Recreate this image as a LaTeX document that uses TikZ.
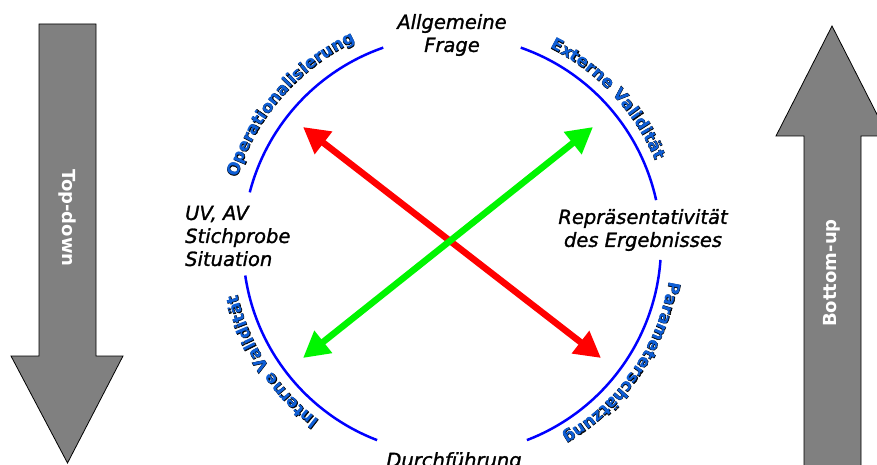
\documentclass[tikz,border=0pt]{standalone}
\usepackage{fontspec}
\setmainfont{DejaVu Sans}
\newfontfamily\labelfont{DejaVu Sans Oblique}[FakeBold=1.3]
\newfontfamily\arcfont{DejaVu Sans Bold}
\newfontfamily\arcfontwide{DejaVu Sans Bold}[FakeBold=3.5]
\usetikzlibrary{arrows.meta,decorations.text}
\definecolor{arcblue}{RGB}{0,0,255}
\definecolor{letterblue}{RGB}{15,95,215}
\definecolor{bigarrow}{RGB}{128,128,128}
\definecolor{xred}{RGB}{255,0,0}
\definecolor{xgreen}{RGB}{0,245,0}
% arc lettering: a thick dark copy underneath, blue letters on top
\newcommand\arcunder{\fontsize{16.5}{17}\arcfontwide\color{black}}
\newcommand\arcover{\fontsize{16.5}{17}\arcfont\color{letterblue}}
\begin{document}
\begin{tikzpicture}[x=1pt,y=1pt,
  ring/.style={draw=arcblue,line width=2.5pt},
  blockarrow/.style={fill=bigarrow,draw=black,line width=0.8pt,line join=miter},
  arrowlabel/.style={text=white,font=\fontsize{18}{20}\selectfont\bfseries,inner sep=0pt},
  stagelabel/.style={font=\fontsize{19.5}{23}\labelfont,inner sep=0pt},
  doublearrow/.style={line width=6.5pt,{Triangle[length=26pt,width=27pt]}-{Triangle[length=26pt,width=27pt]}},
  ringshadow/.style={decorate,decoration={text along path,text align=center,text={|\arcunder|#1}}},
  ringtext/.style={decorate,decoration={text along path,text align=center,text={|\arcover|#1}}}
]
\useasboundingbox (0,0) rectangle (877,464);

% centre of the cycle
\coordinate (C) at (452,219);

% big grey direction arrows
\draw[blockarrow] (39,440) -- (96,440) -- (96,108) -- (123,108) -- (67.5,1) -- (11,108) -- (39,108) -- cycle;
\node[arrowlabel,rotate=-90] (topdown) at (67.5,246) {Top-down};
\draw[blockarrow] (804,-5) -- (804,328) -- (776,328) -- (832,438) -- (888,328) -- (861,328) -- (861,-5) -- cycle;
\node[arrowlabel,rotate=90] (bottomup) at (832,191) {Bottom-up};

% the four arcs of the cycle
\draw[ring] (C) ++(12.4:209) arc[start angle=12.4,end angle=70.8,radius=209];
\draw[ring] (C) ++(109.2:209) arc[start angle=109.2,end angle=165.4,radius=209];
\draw[ring] (C) ++(188.4:209) arc[start angle=188.4,end angle=249,radius=209];
\draw[ring] (C) ++(291:209) arc[start angle=291,end angle=355.9,radius=209];

% lettering along the arcs (clockwise), outline first
\foreach \lay in {ringshadow,ringtext}{
  \path[\lay=Operationalisierung] (C) ++(169.5:225) arc[start angle=169.5,end angle=108.5,radius=225];
  \path[\lay=Externe Validität] (C) ++(73.1:220) arc[start angle=73.1,end angle=13.1,radius=220];
  \path[\lay=Parameterschätzung] (C) ++(-4.75:220) arc[start angle=-4.75,end angle=-64.75,radius=220];
  \path[\lay=Interne Validität] (C) ++(243:220) arc[start angle=243,end angle=183,radius=220];
}

% stages of the cycle
\node[stagelabel,align=center] (frage) at (452,429) {Allgemeine\\Frage};
\node[stagelabel,align=left,anchor=west] (uvav) at (185,228) {UV, AV\\Stichprobe\\Situation};
\node[stagelabel,align=center] (repr) at (643,234) {Repräsentativität\\des Ergebnisses};
\node[stagelabel,anchor=base] (durch) at (454,-3) {Durchführung};

% crossing arrows
\coordinate (r1) at (303,337);
\coordinate (r2) at (601,106);
\coordinate (g1) at (303,106);
\coordinate (g2) at (593,337);
\draw[doublearrow,xred] (r1) -- (r2);
\draw[doublearrow,xgreen] (g1) -- (g2);
\end{tikzpicture}
\end{document}
